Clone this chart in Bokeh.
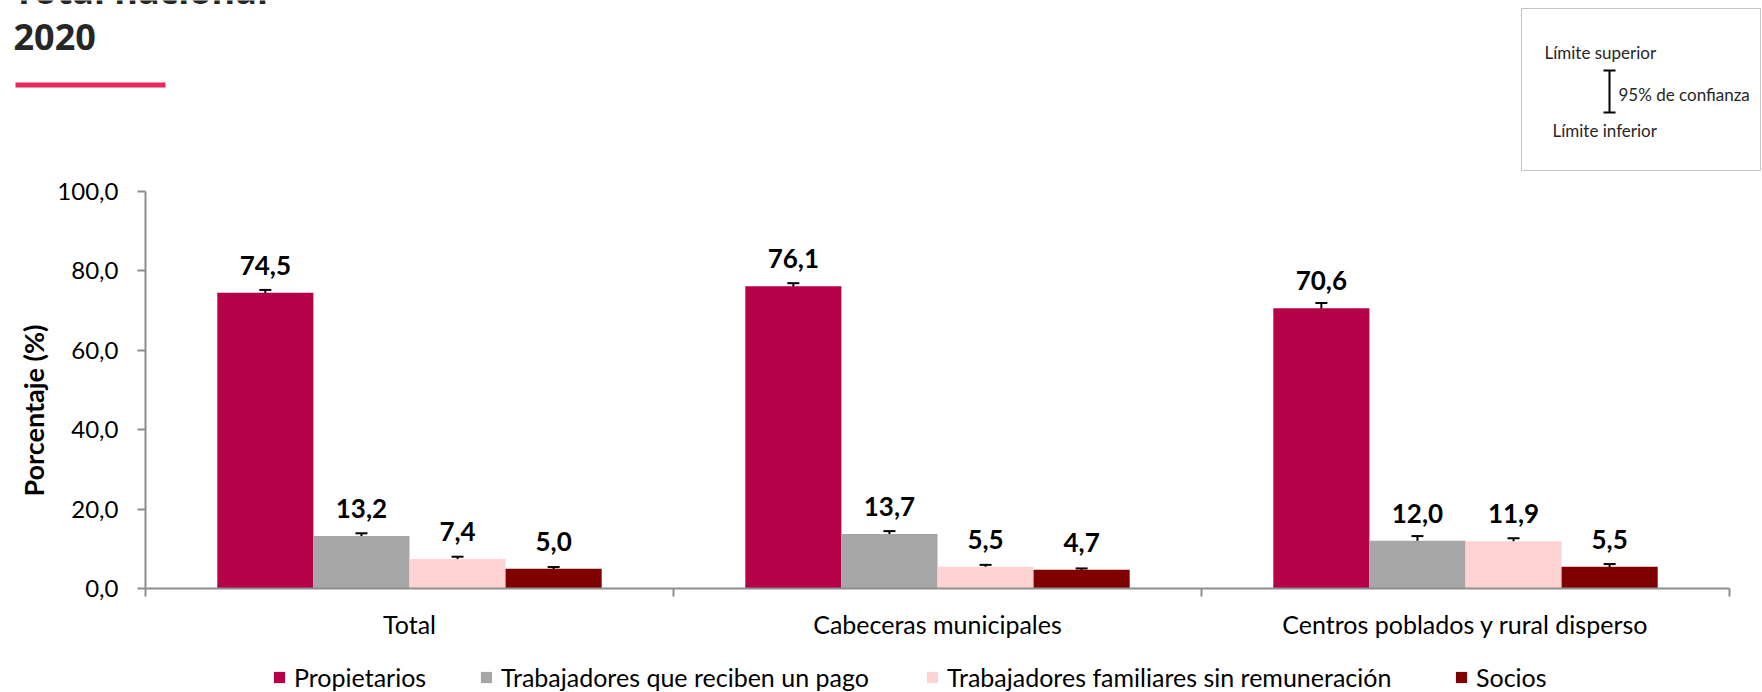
import math
from bokeh.plotting import figure
from bokeh.models import (ColumnDataSource, Range1d, LinearAxis, FixedTicker, Whisker, TeeHead,
                          LabelSet, Label, BoxAnnotation, Legend, LegendItem, GlobalInlineStyleSheet)
from bokeh.transform import dodge
from bokeh.core.properties import value
from bokeh.embed import file_html
from bokeh.resources import INLINE

# ---------------- data ----------------
groups = ["Total", "Cabeceras municipales", "Centros poblados y rural disperso"]
series_names = ["Propietarios", "Trabajadores que reciben un pago",
                "Trabajadores familiares sin remuneración", "Socios"]
propietarios = [74.5, 76.1, 70.6]
propietarios_inf = [73.8, 75.3, 69.3]
propietarios_sup = [75.2, 76.9, 71.9]
pago = [13.2, 13.7, 12.0]
pago_inf = [12.5, 12.95, 10.8]
pago_sup = [13.9, 14.45, 13.2]
familiares = [7.4, 5.5, 11.9]
familiares_inf = [6.8, 5.05, 11.15]
familiares_sup = [8.0, 5.95, 12.65]
socios = [5.0, 4.7, 5.5]
socios_inf = [4.6, 4.35, 4.85]
socios_sup = [5.4, 5.05, 6.15]
colors = ["#B7004A", "#A6A6A6", "#FFD3D3", "#800000"]
y_ticks = [0, 20, 40, 60, 80, 100]
y_tick_labels = ["0,0", "20,0", "40,0", "60,0", "80,0", "100,0"]
y_title = "Porcentaje (%)"
title_lines = ["Total nacional", "2020"]
ci_texts = ["Límite superior", "95% de confianza", "Límite inferior"]

# ---------------- layout ----------------
W, H = 1762, 692
FONT = "Lato"
AXIS_COLOR = "#8E8E8E"

# the plotting frame spans the whole canvas; axes are pinned at x=0 / y=0
p = figure(width=W, height=H, x_range=Range1d(-0.2746, 3.0625), y_range=Range1d(-26.2, 148.1),
           output_backend="svg", toolbar_location=None, x_axis_type=None, y_axis_type=None,
           min_border=0)
p.outline_line_color = None
p.background_fill_color = "white"
p.border_fill_color = "white"
p.stylesheets = [GlobalInlineStyleSheet(css="body { margin: 0; }")]

centers = [i + 0.5 for i in range(len(groups))]

# y axis
yaxis = LinearAxis(ticker=FixedTicker(ticks=y_ticks, minor_ticks=[]), bounds=(0, 100),
                   fixed_location=0)
yaxis.major_label_overrides = {t: l for t, l in zip(y_ticks, y_tick_labels)}
yaxis.major_label_text_font = FONT
yaxis.major_label_text_font_size = "24px"
yaxis.major_label_text_color = "#000000"
yaxis.major_label_standoff = 19
yaxis.major_tick_out = 8
yaxis.major_tick_in = 0
yaxis.minor_tick_line_color = None
yaxis.axis_line_color = AXIS_COLOR
yaxis.axis_line_width = 2
yaxis.major_tick_line_color = AXIS_COLOR
yaxis.major_tick_line_width = 2
p.add_layout(yaxis, "left")

# x axis, sitting on value 0
xaxis = LinearAxis(ticker=FixedTicker(ticks=centers, minor_ticks=list(range(len(groups) + 1))),
                   bounds=(0, len(groups)), fixed_location=0)
xaxis.major_label_overrides = {c: g for c, g in zip(centers, groups)}
xaxis.major_label_text_font = FONT
xaxis.major_label_text_font_size = "25px"
xaxis.major_label_text_color = "#000000"
xaxis.major_label_standoff = 13
xaxis.major_tick_line_color = None
xaxis.major_tick_out = 0
xaxis.major_tick_in = 0
xaxis.minor_tick_out = 8
xaxis.minor_tick_in = 0
xaxis.minor_tick_line_color = AXIS_COLOR
xaxis.minor_tick_line_width = 2
xaxis.axis_line_color = AXIS_COLOR
xaxis.axis_line_width = 2
p.add_layout(xaxis, "below")

# y-axis title
p.add_layout(Label(x=33, y=410, x_units="canvas", y_units="canvas", text=y_title,
                   angle=math.pi / 2, text_align="center", text_baseline="middle",
                   text_font=FONT, text_font_style="bold", text_font_size="27px",
                   text_color="#000000"))

# bars, error bars, value labels, legend
bar_w = 0.182
all_vals = [propietarios, pago, familiares, socios]
all_inf = [propietarios_inf, pago_inf, familiares_inf, socios_inf]
all_sup = [propietarios_sup, pago_sup, familiares_sup, socios_sup]
legend_x = [272, 479, 925, 1454]

for i, name in enumerate(series_names):
    off = (i - 1.5) * bar_w
    src = ColumnDataSource(dict(x=centers, val=all_vals[i], lo=all_inf[i], hi=all_sup[i],
                                lbl=[f"{v:.1f}".replace(".", ",") for v in all_vals[i]]))
    r = p.vbar(x=dodge("x", off, range=p.x_range), top="val", bottom=0, width=bar_w,
               source=src, fill_color=colors[i], line_color=None)
    wk = Whisker(base=dodge("x", off, range=p.x_range), upper="hi", lower="lo", source=src,
                 line_color="black", line_width=2,
                 upper_head=TeeHead(size=12, line_width=2, line_color="black"),
                 lower_head=TeeHead(size=12, line_width=2, line_color="black"))
    p.add_layout(wk)
    ls = LabelSet(x=dodge("x", off, range=p.x_range), y="val", text="lbl", source=src,
                  y_offset=18, text_align="center", text_baseline="alphabetic",
                  text_font=value(FONT), text_font_style="bold", text_font_size="26px",
                  text_color="#000000")
    p.add_layout(ls)
    leg = Legend(items=[LegendItem(label=name, renderers=[r])], location=(legend_x[i], 0),
                 orientation="horizontal", border_line_color=None, background_fill_alpha=0,
                 padding=0, margin=0, glyph_width=14, glyph_height=14, label_standoff=8,
                 label_height=14, label_text_font=FONT, label_text_font_size="25px",
                 label_text_color="#000000")
    p.add_layout(leg)

# title (canvas units: pixels from the top-left corner)
p.add_layout(Label(x=13, y=-10, x_units="canvas", y_units="canvas", text=title_lines[0],
                   text_font="Open Sans", text_font_style="bold", text_font_size="36px",
                   text_color="#262626", text_baseline="alphabetic"))
p.add_layout(Label(x=13, y=36, x_units="canvas", y_units="canvas", text=title_lines[1],
                   text_font="Open Sans", text_font_style="bold", text_font_size="36px",
                   text_color="#262626", text_baseline="alphabetic"))
p.add_layout(BoxAnnotation(left=15, right=165, top=82, bottom=87,
                           left_units="canvas", right_units="canvas", top_units="canvas",
                           bottom_units="canvas", fill_color="#E6295E", fill_alpha=1,
                           line_color=None))

# confidence-interval key box
p.add_layout(BoxAnnotation(left=1521, right=1760, top=8, bottom=170,
                           left_units="canvas", right_units="canvas", top_units="canvas",
                           bottom_units="canvas", fill_alpha=0, line_color="#404040",
                           line_width=1))
for (l, r_, t, b) in [(1608, 1610, 70, 112), (1603, 1615, 69, 71), (1603, 1615, 111, 113)]:
    p.add_layout(BoxAnnotation(left=l, right=r_, top=t, bottom=b,
                               left_units="canvas", right_units="canvas", top_units="canvas",
                               bottom_units="canvas", fill_color="black", fill_alpha=1,
                               line_color=None))
for txt, x, y in zip(ci_texts, [1544, 1618, 1552], [52, 94, 130]):
    p.add_layout(Label(x=x, y=y, x_units="canvas", y_units="canvas", text=txt,
                       text_font=FONT, text_font_size="17px", text_color="#262626",
                       text_baseline="middle"))

open("out.html", "w").write(file_html(p, INLINE))
